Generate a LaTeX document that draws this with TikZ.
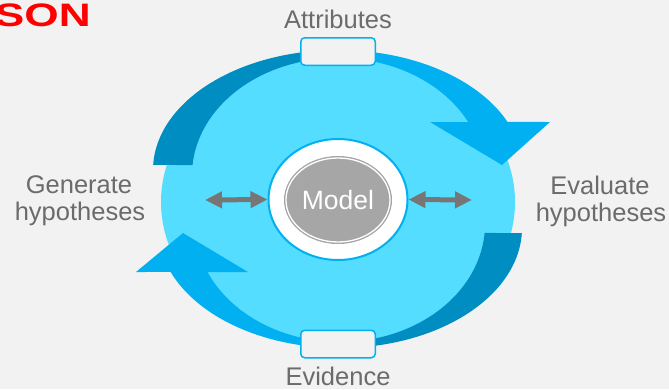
\documentclass[tikz,border=0pt]{standalone}
\usepackage{fontspec}
\setmainfont{Liberation Sans}
\usetikzlibrary{arrows.meta,shapes.geometric}
\definecolor{bg}{HTML}{F2F2F2}
\definecolor{lightblue}{HTML}{55DDFF}
\definecolor{brightblue}{HTML}{00B0F0}
\definecolor{darkblue}{HTML}{008EC2}
\definecolor{arrgray}{HTML}{767676}
\definecolor{modelgray}{HTML}{A6A6A6}
\definecolor{txtgray}{HTML}{6B6B6B}
\definecolor{titlered}{HTML}{FF0000}
\begin{document}
\begin{tikzpicture}[x=1pt,y=-1pt,
  lbl/.style={text=txtgray, font=\fontsize{25.5}{30}\selectfont, inner sep=0, anchor=base},
  dbl/.style={draw=arrgray, line width=5pt, {Triangle[length=17pt,width=16pt]}-{Triangle[length=17pt,width=16pt]}},
  tagbox/.style={draw=brightblue, line width=1.5pt, fill=bg, rounded corners=4pt, minimum width=74.5pt, minimum height=27.5pt, inner sep=0}]
\useasboundingbox (0,0) rectangle (669,389);
\fill[bg] (0,0) rectangle (669,389);
% light disc
\fill[lightblue] (338,202) ellipse [x radius=177, y radius=145];
% top arrow
\fill[darkblue] plot[domain=182.4:270, samples=60] ({338+185*cos(\x)},{170+120*sin(\x)})
  -- plot[domain=270:184.9, samples=60] ({338+146*cos(\x)},{175+117*sin(\x)}) -- cycle;
\fill[brightblue] plot[domain=270:336.4, samples=40] ({338+185*cos(\x)},{170+120*sin(\x)})
  -- (550,122) -- (502,165) -- (430,122)
  -- plot[domain=333.1:270, samples=40] ({338+146*cos(\x)},{175+117*sin(\x)}) -- cycle;
% bottom arrow
\fill[darkblue] plot[domain=2.39:90, samples=60] ({340+182*cos(\x)},{228+120*sin(\x)})
  -- plot[domain=90:4.37, samples=60] ({340+145*cos(\x)},{224+118*sin(\x)}) -- cycle;
\fill[brightblue] plot[domain=90:158.5, samples=40] ({340+182*cos(\x)},{228+120*sin(\x)})
  -- (136,272) -- (183,233) -- (248,272)
  -- plot[domain=156:90, samples=40] ({340+145*cos(\x)},{224+118*sin(\x)}) -- cycle;
% tag boxes
\node[tagbox] (attrbox) at (338,51.5) {};
\node[tagbox] (evidbox) at (338,344) {};
% model
\node[ellipse, draw=brightblue, line width=2pt, fill=white, minimum width=139pt, minimum height=121pt, inner sep=0] (modelring) at (338,199.5) {};
\node[ellipse, draw=modelgray, fill=modelgray, line width=1pt, minimum width=107pt, minimum height=87pt, inner sep=0, text=white, font=\fontsize{26.5}{30}\selectfont] (model) at (338,200) {Model};
\draw[white, line width=1.3pt] (model.center) ellipse [x radius=52, y radius=42];
% double arrows
\coordinate (genend) at (205,200);
\coordinate (evalend) at (472,200);
\draw[dbl] (genend) -- (modelring.west);
\draw[dbl] (modelring.east) -- (evalend);
% labels
\node[lbl] (attr) at (338,28) {Attributes};
\node[lbl] (evid) at (338,385.5) {Evidence};
\node[lbl] (gen1) at (79,193.5) {Generate};
\node[lbl] (gen2) at (80,220) {hypotheses};
\node[lbl] (eval1) at (600,194.5) {Evaluate};
\node[lbl] (eval2) at (601,221) {hypotheses};
\node[font=\bfseries\fontsize{32.5}{36}\selectfont, text=titlered, anchor=base east, inner sep=0, xscale=1.36] (son) at (91,26) {SON};
\end{tikzpicture}
\end{document}
